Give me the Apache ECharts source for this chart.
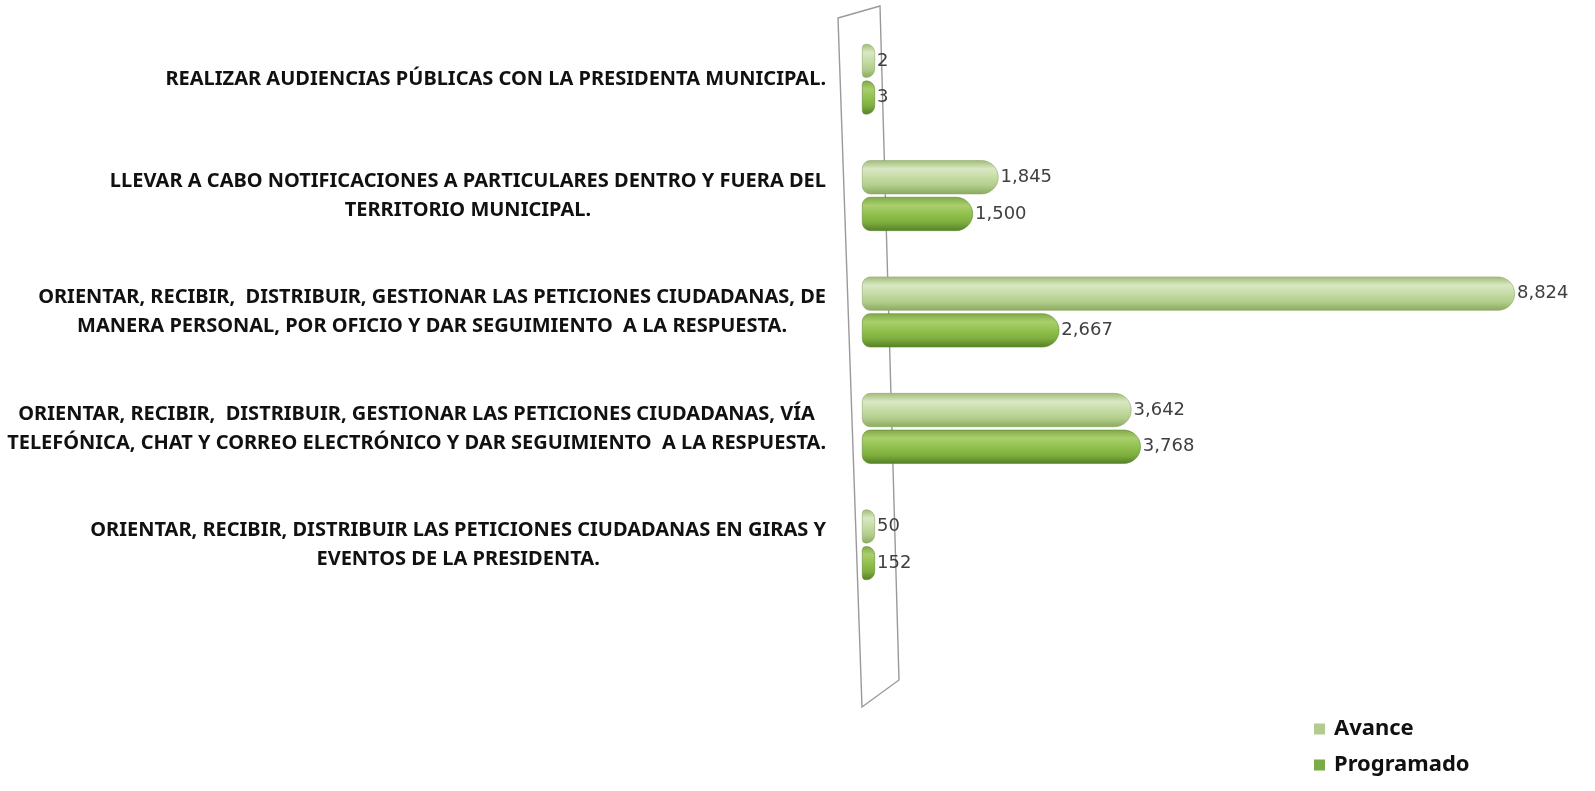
<!DOCTYPE html>
<html>
<head>
<meta charset="utf-8">
<script src="https://cdn.jsdelivr.net/npm/echarts@6/dist/echarts.min.js"></script>
<style>html,body{margin:0;padding:0;background:#fff}#c{width:1595px;height:791px}</style>
</head>
<body>
<div id="c"></div>
<script>
const categories = [
  'REALIZAR AUDIENCIAS PÚBLICAS CON LA PRESIDENTA MUNICIPAL.',
  'LLEVAR A CABO NOTIFICACIONES A PARTICULARES DENTRO Y FUERA DEL\nTERRITORIO MUNICIPAL.',
  'ORIENTAR, RECIBIR,  DISTRIBUIR, GESTIONAR LAS PETICIONES CIUDADANAS, DE\nMANERA PERSONAL, POR OFICIO Y DAR SEGUIMIENTO  A LA RESPUESTA.',
  'ORIENTAR, RECIBIR,  DISTRIBUIR, GESTIONAR LAS PETICIONES CIUDADANAS, VÍA\nTELEFÓNICA, CHAT Y CORREO ELECTRÓNICO Y DAR SEGUIMIENTO  A LA RESPUESTA.',
  'ORIENTAR, RECIBIR, DISTRIBUIR LAS PETICIONES CIUDADANAS EN GIRAS Y\nEVENTOS DE LA PRESIDENTA.'
];
const avance = [2, 1845, 8824, 3642, 50];
const programado = [3, 1500, 2667, 3768, 152];
const seriesNames = ['Avance', 'Programado'];

const chart = echarts.init(document.getElementById('c'), null, {renderer: 'canvas'});
const grad = (stops) => new echarts.graphic.LinearGradient(0, 0, 0, 1, stops.map((c, i) => ({offset: i / (stops.length - 1), color: c})));
const avColor = grad(['#9fbb76', '#d9e8c3', '#c6dca6', '#b1cd8a', '#8ba95e']);
const prColor = grad(['#7fa947', '#a9cf6c', '#92c14f', '#7eae3e', '#557f27']);
const labelFont = "'Noto Sans', sans-serif";
const valueFont = "'DejaVu Sans', sans-serif";

chart.setOption({
  animation: false,
  grid: {left: 862, top: 21, width: 666, height: 582, containLabel: false},
  xAxis: {type: 'value', min: 0, max: 9000, show: false},
  yAxis: {
    type: 'category', data: categories, inverse: true,
    axisLine: {show: false}, axisTick: {show: false},
    axisLabel: {
      margin: 36, align: 'right',
      formatter: (v) => v.split('\n').map(s => '{a|' + s + '}').join('\n'),
      rich: {a: {align: 'center', fontFamily: labelFont, fontWeight: 'bold', fontSize: 20, lineHeight: 29, color: '#111'}}
    }
  },
  legend: {
    orient: 'vertical', left: 1309, top: 713, itemGap: 14,
    icon: 'rect', itemWidth: 11, itemHeight: 11,
    itemStyle: {borderWidth: 0},
    textStyle: {fontFamily: labelFont, fontWeight: 'bold', fontSize: 22, color: '#111', padding: [0, 0, 0, 4]},
    data: [{name: seriesNames[0], itemStyle: {color: '#b3cb8f', borderWidth: 0}}, {name: seriesNames[1], itemStyle: {color: '#7aab45', borderWidth: 0}}]
  },
  graphic: [{
    type: 'polygon', z: 0, silent: true,
    shape: {points: [[838, 18], [880, 6], [899, 680], [862, 707]]},
    style: {fill: 'none', stroke: '#9a9a9a', lineWidth: 1.4}
  }],
  series: [
    {
      name: seriesNames[0], type: 'bar', data: avance, barWidth: 34, barGap: '8%', barMinHeight: 13,
      itemStyle: {color: avColor, borderRadius: [8, 17, 17, 8], borderColor: '#8fa86a', borderWidth: 0.6},
      label: {show: true, position: 'right', distance: 2, formatter: (p) => p.value.toLocaleString('en-US'),
        fontFamily: valueFont, fontSize: 18, color: '#404040'}
    },
    {
      name: seriesNames[1], type: 'bar', data: programado, barWidth: 34, barGap: '8%', barMinHeight: 13,
      itemStyle: {color: prColor, borderRadius: [8, 17, 17, 8], borderColor: '#5f8a32', borderWidth: 0.6},
      label: {show: true, position: 'right', distance: 2, formatter: (p) => p.value.toLocaleString('en-US'),
        fontFamily: valueFont, fontSize: 18, color: '#404040'}
    }
  ]
});
</script>
</body>
</html>
